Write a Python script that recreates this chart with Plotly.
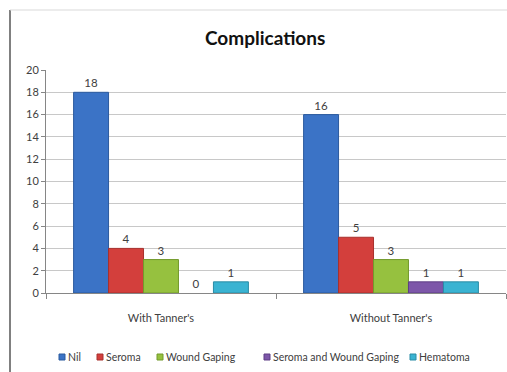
import plotly.graph_objects as go

categories = ["With Tanner's", "Without Tanner's"]
series_names = ["Nil", "Seroma", "Wound Gaping", "Seroma and Wound Gaping", "Hematoma"]
nil = [18, 16]
seroma = [4, 5]
wound_gaping = [3, 3]
seroma_wound = [0, 1]
hematoma = [1, 1]
y_ticks = list(range(0, 21, 2))

colors = ["#3B73C6", "#D33F3C", "#96C13F", "#7D57A9", "#3AB3D2"]
lines = ["#2B5A9E", "#A8302D", "#739A2C", "#5E3F85", "#2A8CA6"]

W, H = 507, 372
ML, MR, MT, MB = 46, 1, 70, 79
PW, PH = W - ML - MR, H - MT - MB

def px(x):
    return (x - ML) / PW

def py(y):
    return (H - MB - y) / PH

fig = go.Figure()
for name, vals, c, lc in zip(series_names, [nil, seroma, wound_gaping, seroma_wound, hematoma], colors, lines):
    fig.add_trace(go.Bar(
        x=categories, y=vals, name=name,
        marker=dict(color=c, line=dict(color=lc, width=[0 if v == 0 else 1 for v in vals])),
        text=[str(v) for v in vals], textposition="outside",
        textfont=dict(family="Lato", size=11.5, color="#404040"),
        cliponaxis=False, showlegend=False,
    ))

fig.update_layout(
    width=W, height=H,
    margin=dict(l=ML, r=MR, t=MT, b=MB, autoexpand=False),
    paper_bgcolor="white", plot_bgcolor="white",
    barmode="group", bargap=0.24, bargroupgap=0,
    font=dict(family="Lato", size=11, color="#404040"),
    title=dict(text="<b>Complications</b>", x=0.523, xanchor="center", y=0.898, yanchor="middle",
               font=dict(family="Lato", size=19, color="#111111")),
    showlegend=False,
    xaxis=dict(showline=True, linecolor="#868686", linewidth=1, ticks="outside", ticklen=5,
               tickcolor="#868686", tickson="boundaries", ticklabelstandoff=15,
               tickfont=dict(size=11, color="#404040")),
    yaxis=dict(range=[0, 20], tickvals=y_ticks, showgrid=True, gridcolor="#C8C8C8", gridwidth=1,
               showline=True, linecolor="#868686", ticks="outside", ticklen=4, tickcolor="#868686",
               zeroline=False, tickfont=dict(size=11, color="#404040")),
)

# manual legend in one row
legend_x = [59, 97, 157, 264, 410]
legend_y = 357
for name, c, lc, lx in zip(series_names, colors, lines, legend_x):
    fig.add_shape(type="rect", xref="paper", yref="paper",
                  x0=px(lx), x1=px(lx + 6), y0=py(legend_y - 3), y1=py(legend_y + 3),
                  fillcolor=c, line=dict(color=lc, width=1))
    fig.add_annotation(xref="paper", yref="paper", x=px(lx + 7), y=py(legend_y),
                       xanchor="left", yanchor="middle", text=name, showarrow=False,
                       font=dict(family="Lato", size=10.5, color="#404040"))

# chart frame (left and top border)
fig.add_shape(type="line", xref="paper", yref="paper", x0=px(10), x1=px(10), y0=py(10), y1=py(372),
              line=dict(color="#808080", width=2))
fig.add_shape(type="line", xref="paper", yref="paper", x0=px(10), x1=px(507), y0=py(10), y1=py(10),
              line=dict(color="#D9D9D9", width=1))

fig.write_html("out.html")
